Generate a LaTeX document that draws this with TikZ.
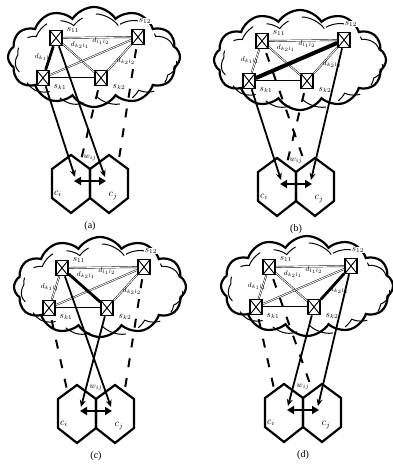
\documentclass[tikz,border=0pt]{standalone}
\usepackage{fontspec}
\setmainfont{Liberation Serif}
\usetikzlibrary{shapes.symbols, arrows.meta, positioning, calc}

\tikzset{
  swbox/.style={draw, line width=1.6pt, fill=white, minimum width=12pt, minimum height=15pt, inner sep=0pt,
    path picture={\draw[line width=0.9pt] (path picture bounding box.north west) -- (path picture bounding box.south east)
      (path picture bounding box.north east) -- (path picture bounding box.south west);}},
  netcloud/.style={cloud, cloud puffs=12, cloud puff arc=115, aspect=1.7, draw, line width=2.2pt,
    minimum width=172pt, minimum height=100pt, inner sep=0pt},
  sketchcloud/.style={cloud, cloud puffs=11, cloud puff arc=110, aspect=1.75, draw, line width=1pt,
    minimum width=162pt, minimum height=92pt, inner sep=0pt, dash pattern=on 26pt off 14pt},
  link/.style={double, double distance=0.9pt, line width=0.45pt},
  hotlink/.style={line width=2.8pt},
  route/.style={line width=1.8pt, -{Stealth[length=7pt, width=6pt]}},
  altroute/.style={line width=2pt, dash pattern=on 9pt off 11pt, shorten >=3pt, shorten <=4pt},
  exch/.style={line width=2.6pt, {Triangle[length=7pt, width=8pt]}-{Triangle[length=7pt, width=8pt]}},
  cellline/.style={line width=2.2pt, line join=miter},
  swlabel/.style={font=\small, inner sep=0.5pt},
  dlabel/.style={font=\scriptsize, inner sep=0.3pt},
}

% one panel: cloud, four switches, their links and the two cells
\newcommand{\netpanel}[4]{%
  \begin{scope}[shift={(#2,#3)}]
    \node[netcloud] (#1cloud) at (94,57) {};
    \node[sketchcloud] (#1sketch) at (96,60) {};
    \node[swbox] (#1s11) at (56,38) {};
    \node[swbox] (#1s12) at (138,37) {};
    \node[swbox] (#1sk1) at (43,78) {};
    \node[swbox] (#1sk2) at (101,78) {};
    \draw[link] (#1s11) -- (#1s12);
    \draw[link] (#1s11) -- (#1sk1);
    \draw[link] (#1s11) -- (#1sk2);
    \draw[link] (#1sk1) -- (#1s12);
    \draw[link] (#1sk1) -- (#1sk2);
    \draw[link] (#1sk2) -- (#1s12);
    \node[swlabel] (#1l11) at (73,30) {$s_{11}$};
    \node[swlabel, fill=white] (#1l12) at (145,21) {$s_{12}$};
    \node[swlabel] (#1lk1) at (60,87) {$s_{k1}$};
    \node[swlabel] (#1lk2) at (119,87) {$s_{k2}$};
    \node[dlabel] (#1d1) at (44,57) {$d_{k_1l_1}$};
    \node[dlabel] (#1d2) at (80,45) {$d_{k_2l_1}$};
    \node[dlabel] (#1d3) at (101,41) {$d_{l_1l_2}$};
    \node[dlabel] (#1d4) at (126,61) {$d_{k_2l_2}$};
    % cells
    \coordinate (#1ci) at (71,184);
    \coordinate (#1cj) at (109,184);
    \draw[cellline] (#1ci) ++(0,-29) -- ++(19,14) -- ++(0,29) -- ++(-19,15) -- ++(-19,-15) -- ++(0,-29) -- cycle;
    \draw[cellline] (#1cj) ++(0,-29) -- ++(19,14) -- ++(0,29) -- ++(-19,15) -- ++(-19,-15) -- ++(0,-29) -- cycle;
    \coordinate (#1ti) at (75,177);
    \coordinate (#1tj) at (105,177);
    \coordinate (#1ci-nw) at (61.5,162);
    \coordinate (#1ci-ne) at (80.5,162);
    \coordinate (#1cj-nw) at (99.5,162);
    \coordinate (#1cj-ne) at (118.5,162);
    \coordinate (#1wi) at (74,181);
    \coordinate (#1wj) at (106,181);
    \draw[exch] (#1wi) -- (#1wj);
    \node[font=\footnotesize] (#1w) at (90,158) {$w_{ij}$};
    \node[font=\normalsize] (#1lci) at (58,194) {$c_i$};
    \node[font=\normalsize] (#1lcj) at (113,196) {$c_j$};
    \node[font=\normalsize] (#1cap) at (90,226) {#4};
  \end{scope}}

\begin{document}
\begin{tikzpicture}[x=1pt, y=-1pt]
  \useasboundingbox (0,0) rectangle (392,469);

  % (a)
  \netpanel{a}{0}{0}{(a)}
  \draw[hotlink] (as11) -- (ask1);
  \draw[route] (ask1) -- (ati);
  \draw[route] (as11) -- (atj);
  \draw[altroute] (ask2) -- (aci-ne);
  \draw[altroute] (as12) -- (acj-ne);

  % (b)
  \netpanel{b}{206}{3}{(b)}
  \draw[hotlink, line width=4pt] (bsk1) -- (bs12);
  \draw[route] (bsk1) -- (bti);
  \draw[route] (bs12) -- (btj);
  \draw[altroute] (bs11) -- (bcj-nw);
  \draw[altroute] (bsk2) -- (bci-ne);

  % (c)
  \netpanel{c}{6}{230}{(c)}
  \draw[hotlink] (cs11) -- (csk2);
  \draw[route] (csk2) -- (cti);
  \draw[route] (cs11) -- (ctj);
  \draw[altroute] (csk1) -- (cci-nw);
  \draw[altroute] (cs12) -- (ccj-ne);

  % (d)
  \netpanel{d}{213}{229}{(d)}
  \draw[hotlink] (ds12) -- (dsk2);
  \draw[route] (dsk2) -- (dti);
  \draw[route] (ds12) -- (dtj);
  \draw[altroute] (dsk1) -- (dci-nw);
  \draw[altroute] (ds11) -- (dcj-nw);
\end{tikzpicture}
\end{document}
